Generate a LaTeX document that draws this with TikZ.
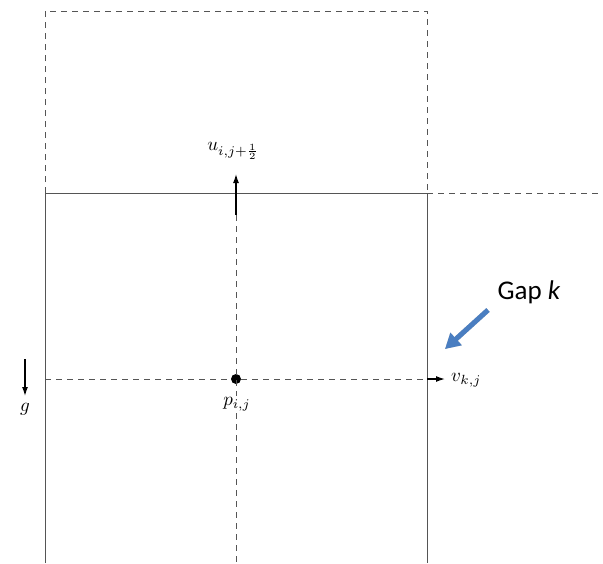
\documentclass[tikz,border=0pt]{standalone}
\usepackage{amsmath}
\usepackage{graphicx}
\usepackage{fontspec}
\newfontfamily\calfont{Carlito}
\usetikzlibrary{arrows.meta, positioning}
\definecolor{linegray}{RGB}{85,85,85}
\definecolor{officeblue}{RGB}{74,126,193}
\newcommand{\biglab}[1]{\scalebox{1.9}{$#1$}}

\begin{document}
\begin{tikzpicture}[x=1pt, y=-1pt,
        wall/.style={draw=linegray, line width=0.8pt},
        cellline/.style={draw=linegray, line width=0.8pt, dash pattern=on 6pt off 5pt},
        flux/.style={-{Latex[length=9pt,width=6pt]}, line width=1.3pt},
        lab/.style={inner sep=1pt},
        dot/.style={circle, fill, inner sep=0pt, minimum size=10pt},
        gaparrow/.style={-{Triangle[length=15pt,width=16pt]}, draw=officeblue, line width=5pt}
    ]
        \useasboundingbox (0,0) rectangle (603,563);
        % cell corners
        \coordinate (tl) at (45,11);
        \coordinate (tr) at (427,11);
        \coordinate (ml) at (45,193);
        \coordinate (mr) at (427,193);
        \coordinate (bl) at (45,563);
        \coordinate (br) at (427,563);
        \coordinate (far) at (603,193);
        \draw[cellline] (ml) -- (tl) -- (tr) -- (mr);
        \draw[cellline] (mr) -- (far);
        \draw[wall] (bl) -- (ml) -- (mr) -- (br);
        % pressure node and fluxes
        \node[dot] (p) at (236,379) {};
        \coordinate (pl) at (45,379);
        \coordinate (pr) at (427,379);
        \coordinate (ubase) at (236,215);
        \coordinate (utip) at (236,174);
        \coordinate (pb) at (236,563);
        \draw[cellline] (pl) -- (p) -- (pr);
        \draw[cellline] (ubase) -- (pb);
        \draw[flux] (ubase) -- (utip);
        \draw[flux] (pr) -- ++(18,0) coordinate (vtip);
        \node[lab] (ulab) at (233,151) {\biglab{u_{i,j+\frac{1}{2}}}};
        \node[lab, anchor=west] (vlab) at (450,380) {\biglab{v_{k,j}}};
        \node[lab, fill=white] (plab) at (237,404) {\biglab{p_{i,j}}};
        % gravity
        \coordinate (gtop) at (25,359);
        \coordinate (gbot) at (25,396);
        \draw[flux] (gtop) -- (gbot);
        \node[lab] (glab) at (25,409) {\biglab{g}};
        % gap label
        \node[font=\calfont\fontsize{27}{30}\selectfont, inner sep=0pt] (gap) at (529,292) {Gap \textit{k}};
        \coordinate (gaptail) at (488,310);
        \coordinate (gaptip) at (445,349);
        \draw[gaparrow, draw=black!25, shift={(2pt,2pt)}] (gaptail) -- (gaptip);
        \draw[gaparrow] (gaptail) -- (gaptip);
    \end{tikzpicture}
\end{document}
